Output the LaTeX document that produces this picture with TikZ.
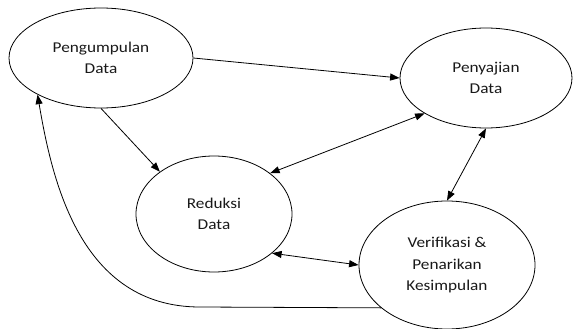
\documentclass[tikz,border=0pt]{standalone}
\usepackage{fontspec}
\newfontfamily\stagefont[FakeStretch=1.15]{Carlito}
\usetikzlibrary{arrows.meta, shapes.geometric, positioning}
\tikzset{%
  stage/.style={draw, ellipse, line width=0.8pt, inner sep=0mm, align=center,
    text=black!90, font=\stagefont\fontsize{15}{21.5}\selectfont},
  flow/.style={line width=0.8pt, -{Triangle[length=9.5pt,width=7pt]}},
  both/.style={line width=0.8pt, {Triangle[length=9.5pt,width=7pt]}-{Triangle[length=9.5pt,width=7pt]}},
}
\begin{document}
\begin{tikzpicture}[x=1pt,y=-1pt]
  \useasboundingbox (0,0) rectangle (573,329);

  \node[stage, minimum width=184pt, minimum height=100pt] (kumpul) at (101,58) {Pengumpulan\\Data};
  \node[stage, minimum width=172pt, minimum height=100pt] (saji) at (486,78) {Penyajian\\Data};
  \node[stage, minimum width=156pt, minimum height=116pt] (reduksi) at (214,214) {Reduksi\\Data};
  \node[stage, minimum width=176pt, minimum height=128pt] (simpul) at (447,265) {Verifikasi \&\\Penarikan\\Kesimpulan};

  \draw[flow] (kumpul.east) -- (saji.west);
  \draw[flow] (kumpul.south) -- (reduksi.142);
  \draw[both] (saji.210) -- (reduksi.36);
  \draw[both] (saji.south) -- (simpul.north);
  \draw[both] (reduksi.-34) -- (simpul.west);

  \coordinate (belok) at (200,307);
  \draw[flow] (simpul.213) -- (belok) .. controls (80,307) and (52,180) .. (kumpul.210);
\end{tikzpicture}
\end{document}
